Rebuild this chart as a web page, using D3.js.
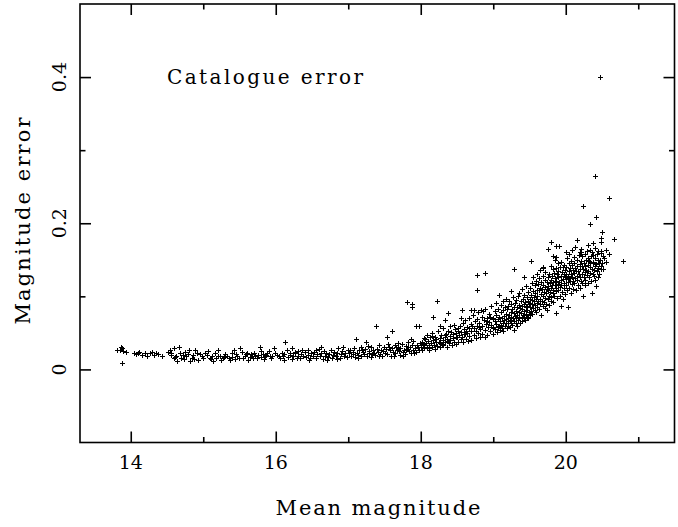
<!DOCTYPE html>
<html>
<head>
<meta charset="utf-8">
<script src="https://cdn.jsdelivr.net/npm/d3@7"></script>
<style>
  html, body { margin: 0; padding: 0; background: #fff; }
  svg { display: block; }
  text { font-family: "DejaVu Serif", "Liberation Serif", serif; fill: #000; }
</style>
</head>
<body>
<svg id="chart" width="678" height="527"></svg>
<script>
// ---- data: [mean magnitude, magnitude error] ----
const starsBright = [
  [13.81,.027],[13.85,.027],[13.88,.029],[13.90,.025],[13.94,.024],[13.88,.009],[13.86,.030],
  [14.04,.022],[14.07,.021],[14.12,.024],[14.16,.020],[14.20,.022],[14.26,.022],[14.29,.024],
  [14.32,.020],[14.38,.021],[14.43,.019],[14.10,.023],[14.23,.019],[14.35,.023],
  [14.52,.024],[14.54,.027],[14.59,.029],[14.66,.031],[14.56,.020],[14.59,.015],[14.63,.019],
  [14.68,.022],[14.73,.014],[14.76,.018],[14.79,.021],[14.82,.012],[14.84,.016],[14.86,.020],
  [14.89,.027],[14.91,.022],[14.93,.013],[14.98,.018],[15.00,.015],[14.61,.017],[14.70,.016],
  [14.55,.022],[14.75,.024],[14.81,.026],[14.95,.021],[14.64,.012],[14.87,.014],[14.72,.020],
  [15.05,.020],[15.07,.025],[15.12,.019],[15.14,.012],[15.18,.016],[15.21,.027],[15.23,.019],
  [15.27,.015],[15.30,.021],[15.35,.016],[15.39,.022],[15.42,.027],[15.44,.014],[15.47,.019],
  [15.09,.016],[15.16,.022],[15.25,.013],[15.33,.019],[15.37,.013],[15.11,.014],[15.20,.018],
  [15.29,.017],[15.40,.017],[15.45,.021],[15.03,.023],[15.49,.015],
  [15.51,.029],[15.53,.024],[15.55,.016],[15.59,.021],[15.62,.013],[15.67,.019],[15.70,.022],
  [15.74,.015],[15.78,.031],[15.82,.021],[15.85,.018],[15.90,.025],[15.93,.016],[15.97,.029],
  [15.99,.022],[15.57,.018],[15.64,.017],[15.68,.015],[15.72,.019],[15.76,.020],[15.80,.017],
  [15.84,.014],[15.87,.020],[15.92,.019],[15.95,.018],[15.61,.023],[15.88,.023],[15.66,.021],
  [15.79,.025]
];
const starsMid = [
  [16.04,.018],[16.08,.023],[16.13,.038],[16.15,.027],[16.20,.020],[16.22,.029],[16.27,.022],
  [16.29,.016],[16.02,.020],[16.06,.016],[16.10,.019],[16.12,.021],[16.17,.017],[16.19,.023],
  [16.24,.018],[16.26,.024],[16.31,.019],[16.33,.015],[16.35,.021],[16.38,.018],[16.40,.024],
  [16.42,.017],[16.45,.020],[16.47,.015],[16.49,.022],[16.36,.026],[16.44,.027],[16.11,.013],
  [16.23,.014],[16.30,.025],[16.46,.013],
  [16.51,.019],[16.53,.024],[16.55,.016],[16.57,.021],[16.59,.028],[16.61,.018],[16.63,.022],
  [16.65,.014],[16.66,.025],[16.68,.019],[16.70,.023],[16.72,.017],[16.74,.021],[16.76,.027],
  [16.77,.015],[16.79,.020],[16.81,.024],[16.83,.018],[16.85,.022],[16.86,.029],[16.88,.016],
  [16.90,.021],[16.92,.025],[16.94,.019],[16.96,.023],[16.98,.017],[16.99,.027],[16.62,.031],
  [16.71,.013],[16.84,.014],[16.93,.030],[16.56,.026],
  [17.01,.022],[17.03,.026],[17.04,.019],[17.06,.024],[17.08,.029],[17.09,.017],[17.11,.042],
  [17.12,.023],[17.14,.020],[17.15,.027],[17.17,.031],[17.18,.018],[17.20,.024],[17.22,.021],
  [17.23,.028],[17.25,.037],[17.26,.019],[17.28,.025],[17.29,.022],[17.31,.030],[17.32,.017],
  [17.34,.026],[17.35,.023],[17.37,.020],[17.38,.060],[17.39,.028],[17.41,.024],[17.42,.033],
  [17.44,.021],[17.45,.027],[17.47,.019],[17.48,.025],[17.49,.030],[17.07,.021],[17.19,.026],
  [17.33,.021],[17.43,.018],[17.13,.016],[17.27,.032],
  [17.50,.023],[17.52,.028],[17.53,.044],[17.54,.021],[17.56,.031],[17.57,.026],[17.59,.019],
  [17.60,.052],[17.61,.029],[17.62,.024],[17.64,.034],[17.65,.022],[17.67,.027],[17.68,.031],
  [17.70,.025],[17.71,.020],[17.72,.029],[17.74,.035],[17.75,.024],[17.77,.027],[17.78,.021],
  [17.80,.032],[17.81,.028],[17.82,.037],[17.84,.025],[17.85,.030],[17.86,.022],[17.88,.033],
  [17.89,.027],[17.90,.039],[17.92,.029],[17.93,.024],[17.94,.060],[17.95,.034],[17.96,.031],
  [17.97,.026],[17.98,.059],[17.99,.036],[17.55,.035],[17.63,.018],[17.69,.036],[17.76,.019],
  [17.83,.031],[17.87,.041],[17.91,.022],[17.66,.030],[17.79,.026],
  [17.81,.092],[17.88,.090],[17.88,.085]
];
const starsFaint = [
  [18.01,.031],[18.02,.038],[18.02,.027],[18.04,.043],[18.05,.034],[18.05,.029],[18.07,.036],
  [18.08,.047],[18.09,.030],[18.10,.039],[18.11,.033],[18.11,.026],[18.13,.044],[18.14,.036],
  [18.15,.031],[18.15,.050],[18.17,.040],[18.18,.034],[18.19,.028],[18.20,.045],[18.21,.037],
  [18.21,.041],[18.23,.032],[18.24,.052],[18.25,.038],[18.26,.043],[18.26,.030],[18.28,.047],
  [18.29,.035],[18.30,.040],[18.31,.056],[18.31,.033],[18.33,.044],[18.34,.038],[18.35,.049],
  [18.36,.031],[18.36,.042],[18.38,.053],[18.39,.036],[18.40,.046],[18.41,.040],[18.41,.059],
  [18.43,.034],[18.44,.049],[18.44,.043],[18.46,.038],[18.47,.055],[18.48,.045],[18.48,.035],
  [18.49,.050],[18.03,.035],[18.12,.029],[18.19,.042],[18.27,.036],[18.34,.047],[18.42,.051],
  [18.06,.041],[18.16,.046],[18.46,.061],[18.38,.039],
  [18.17,.072],[18.27,.060],[18.33,.068],[18.34,.067],[18.38,.077],[18.23,.093],
  [18.50,.044],[18.51,.053],[18.51,.038],[18.53,.047],[18.54,.060],[18.55,.041],[18.55,.051],
  [18.57,.045],[18.58,.064],[18.58,.037],[18.60,.055],[18.61,.048],[18.61,.067],[18.63,.042],
  [18.64,.058],[18.64,.050],[18.66,.071],[18.67,.046],[18.67,.056],[18.69,.062],[18.70,.040],
  [18.70,.052],[18.72,.074],[18.73,.057],[18.73,.047],[18.75,.066],[18.76,.053],[18.76,.043],
  [18.78,.060],[18.79,.078],[18.79,.050],[18.81,.064],[18.82,.055],[18.82,.045],[18.84,.072],
  [18.85,.059],[18.85,.049],[18.87,.067],[18.88,.083],[18.88,.054],[18.90,.062],[18.91,.071],
  [18.91,.047],[18.93,.058],[18.94,.076],[18.94,.065],[18.96,.052],[18.97,.087],[18.97,.061],
  [18.99,.069],[18.99,.056],[18.52,.057],[18.59,.049],[18.65,.039],[18.71,.059],[18.77,.069],
  [18.83,.081],[18.89,.044],[18.95,.072],[18.62,.053],[18.80,.058],[18.92,.066],
  [18.56,.071],[18.57,.081],[18.69,.081],[18.73,.081],[18.77,.129],[18.88,.132],[18.77,.108],
  [18.86,.080]
];
const starsFainter = [
  [19.00,.058],[19.00,.071],[19.00,.049],[19.02,.066],[19.02,.080],[19.03,.055],[19.04,.062],
  [19.04,.074],[19.04,.091],[19.05,.051],[19.06,.069],[19.06,.058],[19.07,.083],[19.08,.060],
  [19.08,.102],[19.08,.072],[19.09,.054],[19.09,.066],[19.10,.078],[19.10,.061],[19.11,.088],
  [19.12,.057],[19.12,.070],[19.13,.064],[19.13,.081],[19.14,.052],[19.14,.093],[19.15,.073],
  [19.15,.067],[19.16,.059],[19.16,.085],[19.17,.076],[19.18,.063],[19.18,.069],[19.18,.097],
  [19.19,.082],[19.19,.057],[19.20,.071],[19.20,.066],[19.21,.087],[19.21,.060],[19.22,.075],
  [19.22,.094],[19.23,.068],[19.23,.058],[19.24,.107],[19.24,.079],[19.25,.072],[19.25,.064],
  [19.25,.089],[19.26,.083],[19.26,.061],[19.27,.070],[19.27,.099],[19.28,.077],[19.28,.054],
  [19.29,.137],[19.29,.085],[19.29,.066],[19.30,.073],[19.30,.091],[19.31,.080],[19.31,.063],
  [19.32,.095],[19.32,.070],[19.33,.086],[19.33,.075],[19.33,.059],[19.34,.101],[19.34,.068],
  [19.35,.079],[19.35,.088],[19.36,.072],[19.36,.105],[19.37,.084],[19.37,.064],[19.38,.093],
  [19.38,.077],[19.39,.070],[19.39,.087],[19.39,.110],[19.40,.082],[19.40,.066],[19.41,.097],
  [19.41,.075],[19.42,.126],[19.42,.089],[19.42,.071],[19.43,.080],[19.43,.102],[19.44,.092],
  [19.44,.068],[19.45,.076],[19.45,.085],[19.45,.114],[19.46,.099],[19.46,.072],[19.47,.087],
  [19.47,.081],[19.48,.094],[19.48,.070],[19.48,.106],[19.49,.078],[19.49,.090],
  [19.50,.085],[19.50,.097],[19.50,.074],[19.51,.112],[19.51,.091],[19.52,.148],[19.52,.080],
  [19.52,.102],[19.53,.089],[19.53,.118],[19.54,.095],[19.54,.076],[19.55,.107],[19.55,.084],
  [19.55,.126],[19.56,.093],[19.56,.099],[19.57,.081],[19.57,.115],[19.58,.104],[19.58,.088],
  [19.59,.121],[19.59,.096],[19.59,.078],[19.60,.131],[19.60,.091],[19.60,.109],[19.61,.086],
  [19.61,.100],[19.62,.117],[19.62,.094],[19.63,.083],[19.63,.108],[19.63,.125],[19.64,.097],
  [19.64,.112],[19.65,.089],[19.65,.136],[19.66,.074],[19.66,.103],[19.66,.119],[19.67,.094],
  [19.67,.110],[19.68,.128],[19.68,.087],[19.69,.140],[19.69,.139],[19.69,.101],[19.69,.116],
  [19.70,.092],[19.70,.106],[19.71,.122],[19.71,.084],[19.72,.113],[19.72,.098],[19.72,.133],
  [19.73,.105],[19.73,.090],[19.74,.119],[19.74,.081],[19.74,.110],[19.75,.165],[19.75,.096],
  [19.75,.127],[19.76,.108],[19.76,.114],[19.77,.100],[19.77,.131],[19.77,.088],[19.78,.118],
  [19.78,.106],[19.79,.094],[19.79,.142],[19.79,.123],[19.80,.174],[19.80,.111],[19.80,.099],
  [19.81,.128],[19.81,.116],[19.82,.104],[19.82,.137],[19.82,.092],[19.83,.155],[19.83,.120],
  [19.83,.109],[19.84,.132],[19.84,.100],[19.85,.150],[19.85,.115],[19.85,.125],[19.86,.107],
  [19.86,.139],[19.87,.169],[19.87,.154],[19.87,.077],[19.87,.121],[19.87,.112],[19.88,.130],
  [19.88,.098],[19.89,.117],[19.89,.145],[19.90,.108],[19.90,.126],[19.90,.135],[19.91,.169],
  [19.91,.119],[19.92,.101],[19.92,.140],[19.92,.113],[19.93,.128],[19.93,.122],[19.94,.087],
  [19.94,.116],[19.94,.147],[19.95,.133],[19.95,.106],[19.96,.124],[19.96,.140],[19.96,.097],
  [19.97,.111],[19.97,.131],[19.98,.143],[19.98,.118],[19.99,.103],[19.99,.136],[19.99,.126]
];
const starsFaintest = [
  [20.00,.161],[20.00,.115],[20.00,.131],[20.01,.124],[20.01,.140],[20.02,.109],[20.02,.152],
  [20.03,.085],[20.03,.128],[20.03,.119],[20.04,.146],[20.04,.135],[20.05,.112],[20.05,.158],
  [20.05,.125],[20.06,.139],[20.06,.121],[20.07,.130],[20.07,.104],[20.07,.149],[20.08,.143],
  [20.08,.117],[20.09,.127],[20.09,.163],[20.10,.136],[20.10,.110],[20.10,.121],[20.11,.154],
  [20.11,.132],[20.12,.118],[20.12,.145],[20.13,.139],[20.13,.125],[20.13,.168],[20.14,.108],
  [20.14,.134],[20.15,.150],[20.15,.128],[20.16,.177],[20.16,.122],[20.16,.141],[20.17,.135],
  [20.17,.116],[20.18,.157],[20.18,.130],[20.19,.144],[20.19,.112],[20.19,.126],[20.20,.160],
  [20.20,.137],[20.21,.165],[20.21,.161],[20.21,.121],[20.21,.148],[20.22,.131],[20.22,.142],
  [20.23,.118],[20.23,.155],[20.24,.224],[20.24,.100],[20.24,.138],[20.25,.146],[20.25,.127],
  [20.26,.133],[20.26,.158],[20.26,.115],[20.27,.123],[20.27,.141],[20.28,.150],[20.28,.136],
  [20.29,.129],[20.29,.162],[20.30,.170],[20.30,.143],[20.30,.118],[20.31,.134],[20.31,.152],
  [20.32,.149],[20.32,.126],[20.33,.164],[20.33,.140],[20.34,.199],[20.34,.132],[20.34,.147],
  [20.35,.155],[20.35,.121],[20.36,.105],[20.36,.138],[20.36,.161],[20.37,.145],[20.37,.130],
  [20.38,.173],[20.38,.147],[20.38,.156],[20.39,.136],[20.39,.128],[20.40,.152],[20.40,.141],
  [20.41,.265],[20.41,.166],[20.41,.123],[20.42,.209],[20.42,.114],[20.42,.144],[20.43,.158],
  [20.43,.135],[20.44,.150],[20.44,.127],[20.45,.139],[20.45,.162],[20.46,.146],[20.46,.131],
  [20.47,.400],[20.47,.150],[20.48,.142],[20.48,.159],[20.49,.180],[20.49,.174],[20.49,.162],
  [20.49,.137],[20.50,.188],[20.50,.145],
  [20.52,.155],[20.52,.138],[20.53,.152],[20.55,.147],[20.56,.163],[20.59,.235],[20.60,.158],
  [20.66,.179],[20.79,.148]
];

// ---- axes definitions ----
const xDomain = [13.3, 21.5];
const yDomain = [-0.1, 0.5];
const xMajorTicks = [14, 16, 18, 20];
const xMinorTicks = [15, 17, 19, 21];
const yMajorTicks = [0, 0.2, 0.4];
const yMinorTicks = [0.1, 0.3];
const yTickLabels = ["0", "0.2", "0.4"];
const xTitle = "Mean magnitude";
const yTitle = "Magnitude error";
const annotation = "Catalogue error";

const allStars = [].concat(starsBright, starsMid, starsFaint, starsFainter, starsFaintest);

const svg = d3.select("#chart");
const L = 80, R = 674.5, T = 4, B = 442.5;
const x = d3.scaleLinear().domain(xDomain).range([L, R]);
const y = d3.scaleLinear().domain(yDomain).range([B, T]);

const majorLen = 11, minorLen = 5.5;
const sw = 1.6;

// frame
svg.append("rect")
  .attr("x", L).attr("y", T).attr("width", R - L).attr("height", B - T)
  .attr("fill", "none").attr("stroke", "#000").attr("stroke-width", sw);

// ticks via d3 axes (inward, both sides)
function styleAxis(g) {
  g.select(".domain").remove();
  g.selectAll("line").attr("stroke", "#000").attr("stroke-width", sw);
  g.selectAll("text").remove();
}
svg.append("g").attr("transform", `translate(0,${B})`)
  .call(d3.axisTop(x).tickValues(xMajorTicks).tickSize(majorLen)).call(styleAxis);
svg.append("g").attr("transform", `translate(0,${B})`)
  .call(d3.axisTop(x).tickValues(xMinorTicks).tickSize(minorLen)).call(styleAxis);
svg.append("g").attr("transform", `translate(0,${T})`)
  .call(d3.axisBottom(x).tickValues(xMajorTicks).tickSize(majorLen)).call(styleAxis);
svg.append("g").attr("transform", `translate(0,${T})`)
  .call(d3.axisBottom(x).tickValues(xMinorTicks).tickSize(minorLen)).call(styleAxis);
svg.append("g").attr("transform", `translate(${L},0)`)
  .call(d3.axisRight(y).tickValues(yMajorTicks).tickSize(majorLen)).call(styleAxis);
svg.append("g").attr("transform", `translate(${L},0)`)
  .call(d3.axisRight(y).tickValues(yMinorTicks).tickSize(minorLen)).call(styleAxis);
svg.append("g").attr("transform", `translate(${R},0)`)
  .call(d3.axisLeft(y).tickValues(yMajorTicks).tickSize(majorLen)).call(styleAxis);
svg.append("g").attr("transform", `translate(${R},0)`)
  .call(d3.axisLeft(y).tickValues(yMinorTicks).tickSize(minorLen)).call(styleAxis);

// tick labels
svg.append("g").selectAll("text").data(xMajorTicks).join("text")
  .attr("x", d => x(d)).attr("y", 469)
  .attr("text-anchor", "middle").attr("font-size", 19)
  .text(d => d);
svg.append("g").selectAll("text").data(yMajorTicks).join("text")
  .attr("transform", d => `translate(66,${y(d)}) rotate(-90)`)
  .attr("text-anchor", "middle").attr("font-size", 19)
  .text((d, i) => yTickLabels[i]);

// titles
svg.append("text").attr("x", 378).attr("y", 515)
  .attr("text-anchor", "middle").attr("font-size", 21)
  .attr("textLength", 205).attr("lengthAdjust", "spacing")
  .text(xTitle);
svg.append("text")
  .attr("transform", `translate(30,221) rotate(-90)`)
  .attr("text-anchor", "middle").attr("font-size", 21)
  .attr("textLength", 207).attr("lengthAdjust", "spacing")
  .text(yTitle);
svg.append("text").attr("x", 167).attr("y", 84)
  .attr("font-size", 20)
  .attr("textLength", 196).attr("lengthAdjust", "spacing")
  .text(annotation);

// points: small plus markers
const arm = 2.5;
svg.append("g").attr("stroke", "#000").attr("stroke-width", 1).attr("shape-rendering", "crispEdges")
  .selectAll("path").data(allStars).join("path")
  .attr("d", d => {
    const cx = Math.round(x(d[0])) + 0.5, cy = Math.round(y(d[1])) + 0.5;
    return `M${cx - arm},${cy}H${cx + arm}M${cx},${cy - arm}V${cy + arm}`;
  });
</script>
</body>
</html>
